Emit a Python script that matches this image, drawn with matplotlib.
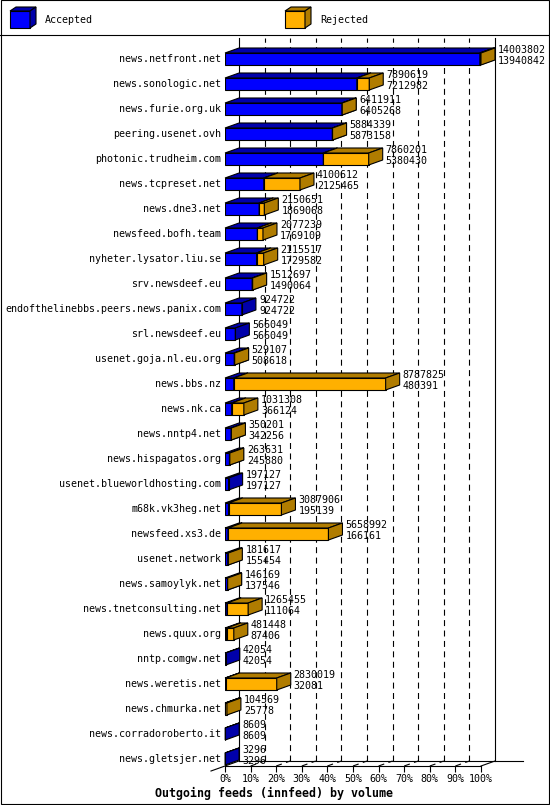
import matplotlib
matplotlib.use('Agg')
import matplotlib.pyplot as plt
from matplotlib.patches import Polygon, Rectangle

hosts = [
    'news.netfront.net', 'news.sonologic.net', 'news.furie.org.uk',
    'peering.usenet.ovh', 'photonic.trudheim.com', 'news.tcpreset.net',
    'news.dne3.net', 'newsfeed.bofh.team', 'nyheter.lysator.liu.se',
    'srv.newsdeef.eu', 'endofthelinebbs.peers.news.panix.com',
    'srl.newsdeef.eu', 'usenet.goja.nl.eu.org', 'news.bbs.nz', 'news.nk.ca',
    'news.nntp4.net', 'news.hispagatos.org', 'usenet.blueworldhosting.com',
    'm68k.vk3heg.net', 'newsfeed.xs3.de', 'usenet.network',
    'news.samoylyk.net', 'news.tnetconsulting.net', 'news.quux.org',
    'nntp.comgw.net', 'news.weretis.net', 'news.chmurka.net',
    'news.corradoroberto.it', 'news.gletsjer.net',
]
offered = [
    14003802, 7890619, 6411911, 5884339, 7860201, 4100612, 2150651, 2077239,
    2115517, 1512697, 924722, 566049, 529107, 8787825, 1031308, 350201,
    263631, 197127, 3087906, 5658992, 181617, 146169, 1265455, 481448,
    42054, 2830019, 104569, 8609, 3296,
]
accepted = [
    13940842, 7212982, 6405268, 5873158, 5380430, 2125465, 1869068, 1769109,
    1729582, 1490064, 924722, 566049, 508618, 480391, 366124, 342256,
    245880, 197127, 195139, 166161, 155454, 137546, 111064, 87406,
    42054, 32081, 25778, 8609, 3296,
]
ticks = list(range(0, 101, 10))
tick_labels = ['{}%'.format(t) for t in ticks]
title = 'Outgoing feeds (innfeed) by volume'

BLUE, BLUE_DARK = '#0000ff', '#0000aa'
ORANGE, ORANGE_DARK = '#ffb000', '#b07c00'
MONO = 'DejaVu Sans Mono'
FS = 7.2
LW = 0.8

plt.rcParams['lines.scale_dashes'] = False
plt.rcParams['font.family'] = MONO

W, H = 550, 805
fig = plt.figure(figsize=(W / 100, H / 100), dpi=100)

# decoration layer in pixel units (border, legend)
deco = fig.add_axes([0, 0, 1, 1], zorder=0)
deco.set_xlim(0, W)
deco.set_ylim(H, 0)
deco.axis('off')
deco.add_patch(Rectangle((0.5, 0.5), W - 1.5, H - 1.5, fill=False, lw=LW, ec='k'))
deco.plot([0, W], [35, 35], color='k', lw=LW)


def cube(x, y, w, h, d, front, dark):
    deco.add_patch(Rectangle((x, y), w, h, fc=front, ec='k', lw=LW))
    deco.add_patch(Polygon([(x, y), (x + w, y), (x + w + d, y - 4), (x + d, y - 4)],
                           fc=dark, ec='k', lw=LW))
    deco.add_patch(Polygon([(x + w, y), (x + w + d, y - 4), (x + w + d, y + h - 4),
                            (x + w, y + h)], fc=dark, ec='k', lw=LW))


cube(10, 11, 20, 17, 6, BLUE, BLUE_DARK)
deco.text(45, 20, 'Accepted', va='center', ha='left', fontsize=FS)
cube(285, 11, 20, 17, 6, ORANGE, ORANGE_DARK)
deco.text(320, 20, 'Rejected', va='center', ha='left', fontsize=FS)

# main plot: front axis from px 225 to 481, rows every 25 px starting at 59
left_px, right_px, top_px, bot_px = 225, 481, 36, 766
row0_px, pitch = 59, 25.0
ax = fig.add_axes([left_px / W, (H - bot_px) / H,
                   (right_px - left_px) / W, (bot_px - top_px) / H], zorder=1)
ax.patch.set_alpha(0)
ymin = (top_px - row0_px) / pitch
ymax = (bot_px - row0_px) / pitch
ax.set_xlim(0, 100)
ax.set_ylim(ymax, ymin)

px_x = (right_px - left_px) / 100.0
DX = 14 / px_x          # depth in percent units
DY = -5 / pitch         # depth in row units (up)
BH = 12 / pitch         # bar thickness

total_max = max(offered)
rows = list(range(len(hosts)))
acc_pct = [a / total_max * 100 for a in accepted]
off_pct = [o / total_max * 100 for o in offered]
rej_pct = [o - a for o, a in zip(off_pct, acc_pct)]

# back wall, floor, grid
wall_top = ymin + 0.1
floor_b = ymax + DY
line_kw = dict(color='k', lw=LW, clip_on=False)
dash_kw = dict(color='k', lw=LW, clip_on=False, linestyle=(0, (4.3, 3.2)), zorder=1)
ax.plot([DX, DX], [floor_b, wall_top], zorder=1.5, **line_kw)
ax.plot([100 + DX, 100 + DX], [floor_b, wall_top], zorder=1.5, **line_kw)
ax.plot([DX, 100 + DX + 28 / px_x], [floor_b, floor_b], zorder=1.5, **line_kw)
ax.plot([-DX, DX], [ymax - DY, floor_b], zorder=1.5, **line_kw)
ax.plot([100, 100 + DX], [ymax, floor_b], zorder=1.5, **line_kw)
for t in ticks[1:-1]:
    ax.plot([t + DX, t + DX], [floor_b, wall_top], **dash_kw)
    ax.plot([t, t + DX], [ymax, floor_b], **dash_kw)


def block(x1, x2, r, front, dark, z):
    top = r - BH / 2
    bot = r + BH / 2
    ax.add_patch(Polygon([(x1, top), (x2, top), (x2 + DX, top + DY), (x1 + DX, top + DY)],
                         fc=dark, ec='k', lw=LW, zorder=z, clip_on=False))
    ax.add_patch(Polygon([(x2, top), (x2 + DX, top + DY), (x2 + DX, bot + DY), (x2, bot)],
                         fc=dark, ec='k', lw=LW, zorder=z, clip_on=False))


ax.barh(rows, acc_pct, height=BH, color=BLUE, edgecolor='k', lw=LW, zorder=3)
ax.barh(rows, rej_pct, left=acc_pct, height=BH, color=ORANGE, edgecolor='k',
        lw=LW, zorder=4)
for r in rows:
    block(0, acc_pct[r], r, BLUE, BLUE_DARK, 3)
    if rej_pct[r] > 0:
        block(acc_pct[r], off_pct[r], r, ORANGE, ORANGE_DARK, 4)

for r, name in enumerate(hosts):
    ax.annotate(name, xy=(0, r), xytext=(-4, 0), textcoords='offset pixels',
                ha='right', va='center', fontsize=FS, annotation_clip=False)
    ax.annotate(str(offered[r]), xy=(off_pct[r] + DX, r), xytext=(3, 9),
                textcoords='offset pixels', ha='left', va='center', fontsize=FS,
                annotation_clip=False, zorder=5)
    ax.annotate(str(accepted[r]), xy=(off_pct[r] + DX, r), xytext=(3, -2),
                textcoords='offset pixels', ha='left', va='center', fontsize=FS,
                annotation_clip=False, zorder=5)

ax.set_yticks([])
ax.set_xticks(ticks)
ax.set_xticklabels(tick_labels)
ax.tick_params(axis='x', direction='out', length=4, width=LW, pad=1.5,
               labelsize=FS, color='k')
for side in ['top', 'left', 'right']:
    ax.spines[side].set_visible(False)
ax.spines['bottom'].set_linewidth(LW)

fig.text(274 / W, 1 - 793 / H, title, ha='center', va='center',
         fontsize=8.4, fontweight='bold', family=MONO)

fig.savefig('out.png', dpi=100)
